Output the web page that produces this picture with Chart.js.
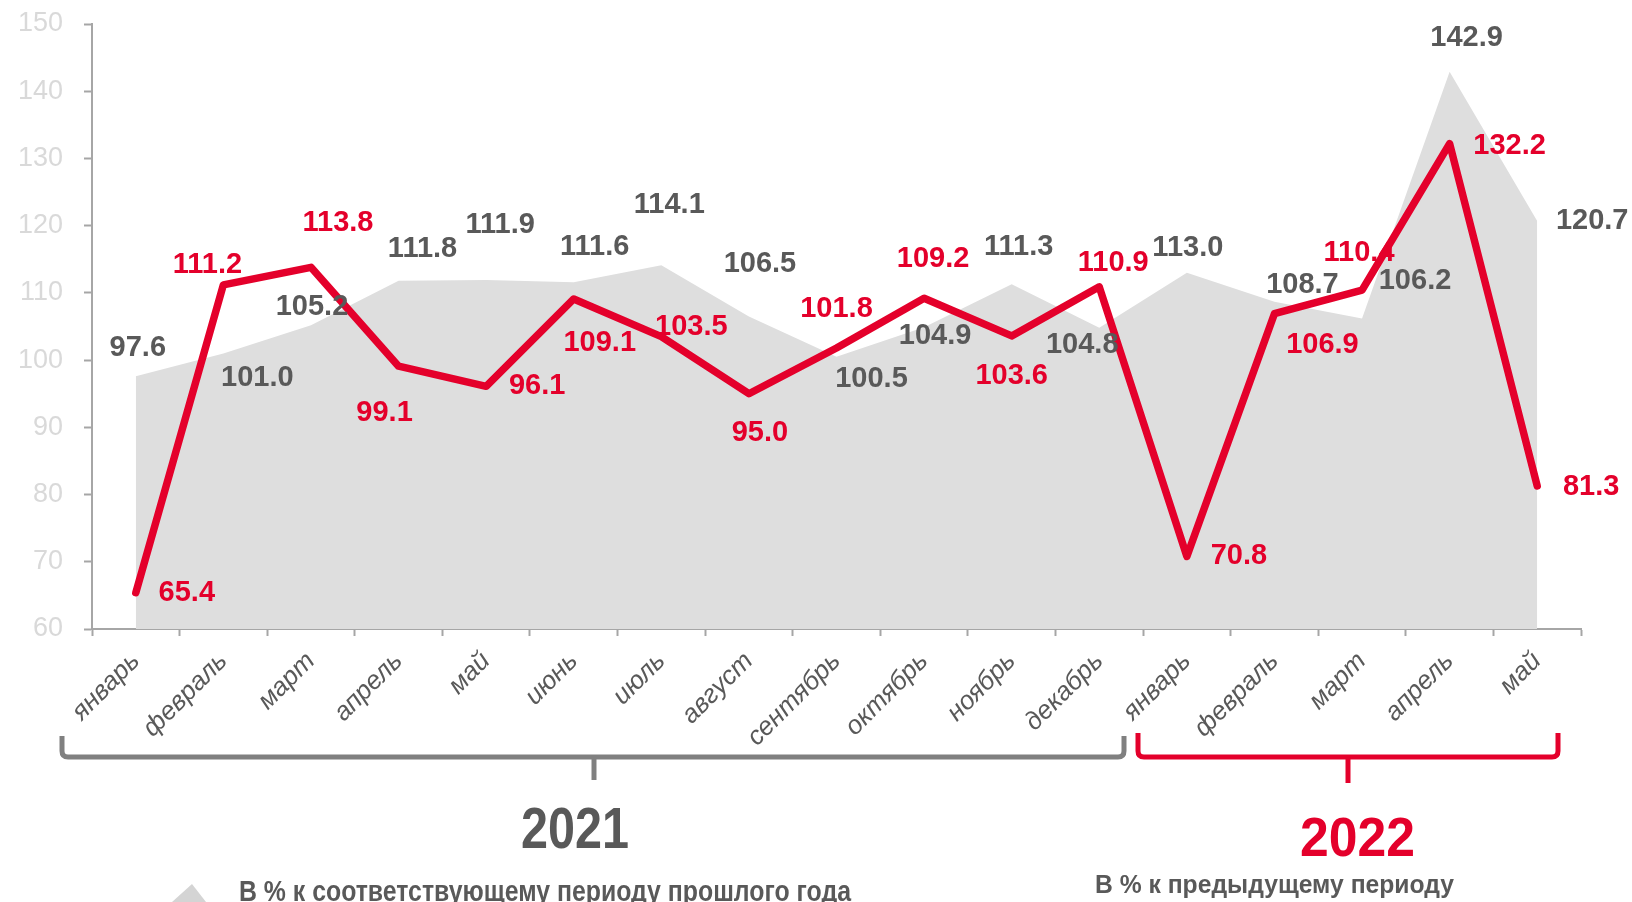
<!DOCTYPE html>
<html>
<head>
<meta charset="utf-8">
<script src="https://cdn.jsdelivr.net/npm/chart.js@4.4.1/dist/chart.umd.min.js"></script>
<style>
    html, body { margin: 0; padding: 0; background: #ffffff; }
    #wrap { position: relative; width: 1632px; height: 902px; }
</style>
</head>
<body>
<div id="wrap"><canvas id="chart"></canvas></div>
<script>
(function () {
    'use strict';

    var MONTHS = ['январь', 'февраль', 'март', 'апрель', 'май', 'июнь', 'июль', 'август',
        'сентябрь', 'октябрь', 'ноябрь', 'декабрь',
        'январь', 'февраль', 'март', 'апрель', 'май'];

    // В % к соответствующему периоду прошлого года (серая область)
    var YEAR_ON_YEAR = [97.6, 101.0, 105.2, 111.8, 111.9, 111.6, 114.1, 106.5, 100.5,
        104.9, 111.3, 104.8, 113.0, 108.7, 106.2, 142.9, 120.7];

    // В % к предыдущему периоду (красная линия)
    var MONTH_ON_MONTH = [65.4, 111.2, 113.8, 99.1, 96.1, 109.1, 103.5, 95.0, 101.8,
        109.2, 103.6, 110.9, 70.8, 106.9, 110.4, 132.2, 81.3];

    var Y_TICKS = [60, 70, 80, 90, 100, 110, 120, 130, 140, 150];

    var YEARS = ['2021', '2022'];
    var LEGEND_YOY = 'В % к соответствующему периоду прошлого года';
    var LEGEND_MOM = 'В % к предыдущему периоду';

    // label offsets from the point, px
    var RED_OFFSETS = [[51, 0], [-16, -20], [27, -44], [-14, 47], [51, 0], [26, 44], [30, -10],
        [11, 39], [0, -39], [9, -39], [0, 40], [14, -24], [52, 0], [48, 31], [-3, -37],
        [60, 2], [54, 1]];
    var GRAY_OFFSETS = [[2, -28], [34, 25], [1, -18], [24, -32], [14, -55], [21, -35], [8, -60],
        [11, -52], [35, 22], [11, 9], [7, -37], [-17, 17], [1, -25], [28, -17], [53, -37],
        [17, -34], [55, 0]];

    var RED = '#e4002b';
    var DARK = '#595959';
    var AREA = '#dedede';
    var FONT = '"Liberation Sans", Arial, sans-serif';

    function fitText(ctx, text, x, y, width) {
        var w = ctx.measureText(text).width;
        ctx.save();
        ctx.translate(x, y);
        ctx.scale(width / w, 1);
        ctx.fillText(text, 0, 0);
        ctx.restore();
    }

    var valueLabels = {
        id: 'valueLabels',
        afterDatasetsDraw: function (chart) {
            var ctx = chart.ctx;
            ctx.save();
            ctx.font = 'bold 29px ' + FONT;
            ctx.textAlign = 'center';
            ctx.textBaseline = 'middle';
            chart.data.datasets.forEach(function (ds, di) {
                var meta = chart.getDatasetMeta(di);
                var offs = di === 0 ? RED_OFFSETS : GRAY_OFFSETS;
                ctx.fillStyle = di === 0 ? RED : DARK;
                meta.data.forEach(function (pt, i) {
                    ctx.fillText(ds.data[i].toFixed(1), pt.x + offs[i][0], pt.y + offs[i][1]);
                });
            });
            ctx.restore();
        }
    };

    function bracket(ctx, x0, x1, xm, top, y, stem, color) {
        var r = 6;
        ctx.save();
        ctx.strokeStyle = color;
        ctx.lineWidth = 5;
        ctx.lineJoin = 'round';
        ctx.beginPath();
        ctx.moveTo(x0, top);
        ctx.lineTo(x0, y - r);
        ctx.quadraticCurveTo(x0, y, x0 + r, y);
        ctx.lineTo(x1 - r, y);
        ctx.quadraticCurveTo(x1, y, x1, y - r);
        ctx.lineTo(x1, top);
        ctx.stroke();
        ctx.beginPath();
        ctx.moveTo(xm, y);
        ctx.lineTo(xm, stem);
        ctx.stroke();
        ctx.restore();
    }

    var annotations = {
        id: 'annotations',
        afterDraw: function (chart) {
            var ctx = chart.ctx;
            bracket(ctx, 62, 1124, 594, 736, 757, 780, '#808080');
            bracket(ctx, 1138, 1558, 1348, 733, 757, 783, RED);

            ctx.save();
            ctx.textAlign = 'left';
            ctx.textBaseline = 'alphabetic';
            ctx.font = 'bold 58px ' + FONT;
            ctx.fillStyle = DARK;
            fitText(ctx, YEARS[0], 521, 848, 108);
            ctx.font = 'bold 56px ' + FONT;
            ctx.fillStyle = RED;
            fitText(ctx, YEARS[1], 1300, 856, 115);

            ctx.fillStyle = DARK;
            ctx.font = 'bold 29px ' + FONT;
            fitText(ctx, LEGEND_YOY, 239, 901, 612);
            ctx.font = 'bold 25px ' + FONT;
            fitText(ctx, LEGEND_MOM, 1095, 893, 359);

            ctx.fillStyle = '#d4d4d4';
            ctx.beginPath();
            ctx.moveTo(172, 902);
            ctx.lineTo(192, 884);
            ctx.lineTo(206, 902);
            ctx.closePath();
            ctx.fill();
            ctx.restore();
        }
    };

    new Chart(document.getElementById('chart'), {
        type: 'line',
        data: {
            labels: MONTHS,
            datasets: [{
                label: LEGEND_MOM,
                data: MONTH_ON_MONTH,
                borderColor: RED,
                borderWidth: 7.5,
                borderJoinStyle: 'round',
                borderCapStyle: 'round',
                pointRadius: 0,
                fill: false,
                tension: 0,
                order: 0
            }, {
                label: LEGEND_YOY,
                data: YEAR_ON_YEAR,
                borderWidth: 0,
                borderColor: AREA,
                backgroundColor: AREA,
                pointRadius: 0,
                fill: 'start',
                tension: 0,
                order: 1
            }]
        },
        options: {
            responsive: true,
            maintainAspectRatio: false,
            animation: false,
            layout: { padding: { top: 24, right: 51, left: 0, bottom: 0 } },
            plugins: {
                legend: { display: false },
                tooltip: { enabled: false }
            },
            scales: {
                x: {
                    offset: true,
                    grid: {
                        offset: true,
                        drawOnChartArea: false,
                        tickLength: 7,
                        tickWidth: 2,
                        color: '#a6a6a6'
                    },
                    border: { color: '#a6a6a6', width: 2 },
                    ticks: {
                        minRotation: 45,
                        maxRotation: 45,
                        autoSkip: false,
                        padding: 10,
                        color: DARK,
                        font: { family: FONT, size: 26, style: 'italic' }
                    },
                    afterFit: function (scale) {
                        scale.height = 273;
                        scale.paddingLeft = 0;
                        scale.paddingRight = 0;
                    }
                },
                y: {
                    min: 60,
                    max: 150,
                    afterBuildTicks: function (scale) {
                        scale.ticks = Y_TICKS.map(function (v) { return { value: v }; });
                    },
                    grid: {
                        drawOnChartArea: false,
                        tickLength: 8,
                        tickWidth: 2,
                        color: '#a6a6a6'
                    },
                    border: { color: '#a6a6a6', width: 2 },
                    ticks: {
                        padding: 21,
                        color: '#d9d9d9',
                        font: { family: FONT, size: 27 }
                    },
                    afterFit: function (scale) {
                        scale.width = 92;
                        scale.paddingTop = 0;
                        scale.paddingBottom = 0;
                    }
                }
            }
        },
        plugins: [valueLabels, annotations]
    });
})();
</script>
</body>
</html>
